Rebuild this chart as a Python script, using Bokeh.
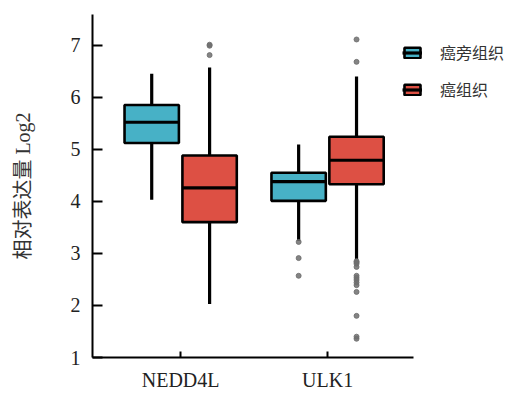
from bokeh.plotting import figure
from bokeh.models import Range1d, FixedTicker, Legend, LegendItem, ColumnDataSource
from bokeh.embed import file_html
from bokeh.resources import INLINE

# ---- data ----
categories = ["NEDD4L", "ULK1"]
groups = ["癌旁组织", "癌组织"]
colors = ["#47B1C6", "#DD5044"]

# per group, per category: lower whisker, q1, median, q3, upper whisker
lower = {"癌旁组织": [4.03, 3.24], "癌组织": [2.03, 2.89]}
q1 = {"癌旁组织": [5.12, 4.01], "癌组织": [3.60, 4.33]}
median = {"癌旁组织": [5.52, 4.38], "癌组织": [4.26, 4.79]}
q3 = {"癌旁组织": [5.85, 4.55], "癌组织": [4.88, 5.24]}
upper = {"癌旁组织": [6.45, 5.09], "癌组织": [6.57, 6.40]}

outliers = {
    "癌旁组织": [[], [3.22, 2.91, 2.57]],
    "癌组织": [[7.01, 6.99, 6.81],
              [7.11, 6.68, 2.85, 2.83, 2.80, 2.74, 2.57, 2.53, 2.49, 2.44,
               2.39, 2.26, 1.80, 1.40, 1.36]],
}

y_ticks = [1, 2, 3, 4, 5, 6, 7]

# ---- layout ----
offsets = [-0.197, 0.197]
box_width = 0.37
x_axis_span = (-0.6, 1.585)

p = figure(width=530, height=393, output_backend="svg", toolbar_location=None,
           x_range=Range1d(-0.6, 2.347), y_range=Range1d(1, 7.59),
           min_border_left=92, min_border_top=14, min_border_right=5,
           min_border_bottom=34)
p.outline_line_color = None
p.grid.visible = False
p.background_fill_color = "white"
p.border_fill_color = "white"

legend_entries = []
for gi, g in enumerate(groups):
    xs = [i + offsets[gi] for i in range(len(categories))]
    src = ColumnDataSource(dict(
        x=xs,
        mx0=[x - box_width / 2 for x in xs],
        mx1=[x + box_width / 2 for x in xs],
        lo=lower[g], q1=q1[g], med=median[g], q3=q3[g], hi=upper[g]))
    # whiskers
    p.segment(x0="x", x1="x", y0="q3", y1="hi", source=src,
              line_color="black", line_width=3.2)
    p.segment(x0="x", x1="x", y0="lo", y1="q1", source=src,
              line_color="black", line_width=3.2)
    # outliers
    ox, oy = [], []
    for ci in range(len(categories)):
        for v in outliers[g][ci]:
            ox.append(ci + offsets[gi])
            oy.append(v)
    p.scatter(ox, oy, size=5, color="#6E6E6E", alpha=0.85, marker="circle")
    # boxes
    box = p.vbar(x="x", width=box_width, bottom="q1", top="q3", source=src,
                 fill_color=colors[gi], line_color="black", line_width=2.6)
    med = p.segment(x0="mx0", x1="mx1", y0="med", y1="med", source=src,
                    line_color="black", line_width=3.2)
    legend_entries.append((g, box, med))

# ---- axes ----
xa = p.xaxis[0]
xa.bounds = x_axis_span
xa.ticker = FixedTicker(ticks=list(range(len(categories))))
xa.major_label_overrides = {i: c for i, c in enumerate(categories)}
xa.minor_tick_line_color = None
xa.major_tick_in = 6
xa.major_tick_out = 0
xa.axis_line_width = 2
xa.major_tick_line_width = 2
xa.major_label_standoff = 11
xa.major_label_text_font = "Liberation Serif"
xa.major_label_text_font_size = "20px"
xa.major_label_text_color = "#222222"

ya = p.yaxis[0]
ya.ticker = FixedTicker(ticks=y_ticks)
ya.minor_tick_line_color = None
ya.major_tick_in = 10
ya.major_tick_out = 0
ya.axis_line_width = 2
ya.major_tick_line_width = 2
ya.major_label_standoff = 12
ya.major_label_text_font = "Liberation Serif"
ya.major_label_text_font_size = "20px"
ya.major_label_text_color = "#222222"
ya.axis_label = "相对表达量 Log2"
ya.axis_label_text_font = "Liberation Serif, Noto Sans CJK SC"
ya.axis_label_text_font_size = "20px"
ya.axis_label_text_font_style = "normal"
ya.axis_label_text_color = "#333333"
ya.axis_label_standoff = 34

# ---- legend ----
legend = Legend(
    items=[LegendItem(label=g, renderers=[b, m]) for g, b, m in legend_entries],
    location=(310, 256),
    glyph_width=20, glyph_height=13, label_standoff=18,
    label_height=20, spacing=13, padding=0, margin=0,
    border_line_color=None, background_fill_alpha=0,
    label_text_font="Noto Sans CJK SC", label_text_font_size="16px",
    label_text_color="#333333",
)
p.add_layout(legend, "center")

open("out.html", "w").write(file_html(p, INLINE))
